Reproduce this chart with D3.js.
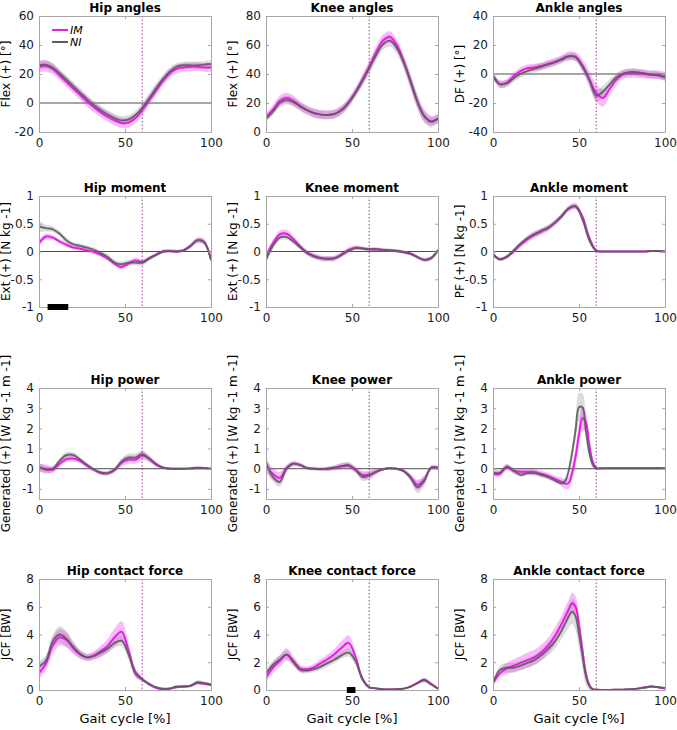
<!DOCTYPE html>
<html>
<head>
<meta charset="utf-8">
<script src="https://cdn.jsdelivr.net/npm/d3@7"></script>
<style>
  body { margin: 0; background: #fff; }
  text { font-family: "DejaVu Sans", Verdana, sans-serif; }
</style>
</head>
<body>
<script>
// gait cycle samples (%)
var gait = [0,4,8,12,16,20,24,28,32,36,40,44,48,52,56,60,64,68,72,76,80,84,88,92,96,100];
var gaitFine = [0,4,8,12,16,20,24,28,32,36,40,42,44,46,48,50,52,54,56,58,60,64,68,72,76,80,84,88,92,96,100];

// joint angles [deg]
var hipAngNI = [26,26.5,24.5,20.5,16,11.5,7,2.5,-1.5,-5,-8,-10.5,-12,-11.5,-8.5,-3.5,3,10,16.5,21.5,25,26,26,26,26.5,27];
var hipAngIM = [25,25.5,23.5,19,14.5,10,5.5,1,-3,-6.5,-9.5,-12,-13.8,-13.5,-10.5,-5,2,8.5,15,20.5,23.5,24.5,25,25,24.5,24.5];
var hipAngNiSd = [3,3,3,3,3,3,3,3,3,3,3,3,3,3,3,3.5,3.5,3.5,3,3,2.5,2.5,2.5,2.5,2.5,2.5];
var hipAngImSd = [4,4,3.5,3.5,3.5,3.5,3.5,3.5,3.5,3.5,3.5,3.5,3.5,3.5,3.5,3.5,3.5,3.5,3,3,3,3,3,3,3,3];

var kneeAngNI = [9,14,20,22,20.5,17.5,15,13,12,11.8,12.5,15,20,27,35,44,53,60.5,63,58,48,35,21,11,7,9.5];
var kneeAngIM = [10.5,15.5,21.5,23.5,21.5,18,15,13,12,11.8,12.5,15.5,20.5,27.5,36,45,55,63,65.5,60,49,35,21,11,7.5,9];
var kneeAngNiSd = [2,2.5,3,3,3,3,3,3,3,3,3,3,3,3,3.5,4,4,4,4,4,4.5,5,5,4.5,4,3];
var kneeAngImSd = [2.5,3,3.5,3.5,3.5,3,3,3,3,3,3,3,3,3,3.5,4,4,4,4,4,4,4.5,4.5,4,3,3];

var ankAngNI = [-1,-7,-6.5,-3,0,2,3.5,5,6.5,8,10,12,11.5,5,-4,-15,-12,-7,-2,0.5,1.5,1.2,0.5,-0.5,-1,-2.5];
var ankAngIM = [-1.5,-7,-6,-1.5,2,4,4.5,5.5,7,8.5,10.5,12.5,12,6,-3.5,-13,-16.5,-10,-3.5,0,0.5,0.5,0,-0.5,-0.5,-1.5];
var ankAngNiSd = [2,2.5,2.5,2.5,2.5,2.5,2.5,2.5,2.5,2.5,2.5,2.5,2.5,3,3.5,4,4,3.5,3,2.5,2.5,2.5,2.5,2.5,2.5,2.5];
var ankAngImSd = [2,2.5,2.5,2.5,2.5,2.5,2.5,2.5,2.5,2.5,2.5,3,3,4,5.5,6,6,4.5,3.5,3,3,3,3,3,3,3];

// joint moments [N kg-1]
var hipMomNI = [0.45,0.42,0.4,0.32,0.2,0.13,0.1,0.07,0.03,-0.03,-0.1,-0.2,-0.23,-0.2,-0.2,-0.2,-0.13,-0.06,0,0.01,0,0.02,0.1,0.2,0.17,-0.15];
var hipMomIM = [0.15,0.27,0.25,0.18,0.12,0.07,0.05,0.02,-0.01,-0.06,-0.13,-0.22,-0.28,-0.22,-0.16,-0.19,-0.12,-0.06,0,0.01,0,0.02,0.1,0.2,0.17,-0.15];
var hipMomNiSd = [0.1,0.06,0.05,0.05,0.05,0.04,0.04,0.04,0.04,0.04,0.05,0.05,0.05,0.05,0.05,0.05,0.04,0.03,0.03,0.03,0.03,0.03,0.04,0.05,0.05,0.05];
var hipMomImSd = [0.06,0.05,0.04,0.04,0.04,0.04,0.04,0.04,0.04,0.04,0.04,0.04,0.04,0.04,0.05,0.04,0.03,0.03,0.03,0.03,0.03,0.03,0.04,0.05,0.05,0.05];

var kneeMomNI = [-0.15,0.1,0.25,0.26,0.18,0.07,-0.03,-0.09,-0.12,-0.13,-0.12,-0.06,0.01,0.06,0.05,0.04,0.04,0.03,0.02,0.01,-0.01,-0.04,-0.1,-0.15,-0.12,0.02];
var kneeMomIM = [-0.08,0.15,0.31,0.32,0.22,0.09,-0.02,-0.08,-0.12,-0.13,-0.12,-0.05,0.03,0.07,0.06,0.04,0.04,0.03,0.02,0.01,-0.01,-0.04,-0.1,-0.15,-0.12,0.02];
var kneeMomNiSd = [0.06,0.05,0.05,0.05,0.05,0.04,0.04,0.04,0.04,0.04,0.04,0.04,0.04,0.03,0.03,0.03,0.03,0.03,0.03,0.03,0.03,0.03,0.03,0.04,0.04,0.04];
var kneeMomImSd = [0.06,0.06,0.07,0.07,0.06,0.05,0.05,0.05,0.05,0.05,0.05,0.04,0.04,0.04,0.03,0.03,0.03,0.03,0.03,0.03,0.03,0.03,0.03,0.03,0.03,0.03];

var ankMomNI = [-0.05,-0.14,-0.09,0.02,0.14,0.24,0.31,0.37,0.43,0.52,0.64,0.78,0.81,0.58,0.2,0.01,0,0,0,0,0,0,0,0.01,0.01,0];
var ankMomIM = [-0.05,-0.14,-0.1,0,0.12,0.22,0.3,0.36,0.42,0.52,0.64,0.77,0.82,0.63,0.25,0.02,0,0,0,0,0,0,0,0.01,0.01,0];
var ankMomNiSd = [0.03,0.03,0.03,0.04,0.04,0.05,0.05,0.05,0.05,0.05,0.05,0.05,0.05,0.05,0.05,0.02,0.01,0.01,0.01,0.01,0.01,0.01,0.01,0.01,0.01,0.01];
var ankMomImSd = [0.03,0.03,0.03,0.04,0.05,0.06,0.06,0.06,0.05,0.05,0.05,0.05,0.05,0.05,0.05,0.02,0.01,0.01,0.01,0.01,0.01,0.01,0.01,0.01,0.01,0.01];

// joint powers [W kg-1 m-1]
var hipPowNI = [0.1,-0.05,0,0.4,0.68,0.68,0.45,0.18,-0.05,-0.2,-0.22,-0.05,0.35,0.55,0.55,0.72,0.5,0.2,0.05,0,0,0,0.01,0.02,0.02,0];
var hipPowIM = [0.05,0,-0.05,0.25,0.48,0.5,0.38,0.15,-0.05,-0.2,-0.22,-0.05,0.3,0.45,0.45,0.65,0.5,0.25,0.07,0.01,0,0,0.02,0.05,0.04,0];
var hipPowNiSd = [0.2,0.2,0.15,0.15,0.15,0.15,0.12,0.12,0.1,0.1,0.1,0.12,0.15,0.2,0.2,0.2,0.15,0.1,0.05,0.03,0.03,0.03,0.03,0.03,0.03,0.03];
var hipPowImSd = [0.2,0.2,0.15,0.15,0.15,0.15,0.12,0.12,0.1,0.1,0.1,0.12,0.2,0.2,0.2,0.2,0.15,0.1,0.05,0.03,0.03,0.03,0.05,0.06,0.05,0.03];

var kneePowNI = [0.3,-0.4,-0.65,0,0.25,0.18,0.03,0,-0.02,0,0.05,0.13,0.18,-0.05,-0.4,-0.33,-0.15,-0.03,0.02,0,-0.12,-0.45,-0.92,-0.6,0.05,0.05];
var kneePowIM = [0.15,-0.25,-0.45,0.05,0.25,0.18,0.03,0,-0.02,0,0.05,0.12,0.15,-0.05,-0.3,-0.3,-0.15,-0.03,0.02,0,-0.1,-0.4,-0.8,-0.55,0.05,0.05];
var kneePowNiSd = [0.4,0.25,0.25,0.15,0.12,0.1,0.08,0.08,0.08,0.1,0.12,0.15,0.15,0.15,0.2,0.2,0.12,0.06,0.05,0.05,0.08,0.15,0.3,0.25,0.1,0.08];
var kneePowImSd = [0.3,0.3,0.3,0.15,0.12,0.1,0.08,0.08,0.08,0.1,0.12,0.15,0.15,0.15,0.2,0.2,0.12,0.06,0.05,0.05,0.08,0.15,0.25,0.2,0.1,0.08];

var ankPowNI = [-0.2,-0.2,0.1,-0.1,-0.3,-0.22,-0.22,-0.3,-0.42,-0.58,-0.72,-0.6,-0.1,0.8,1.9,3.05,3.05,1.9,0.8,0.2,0.02,0.02,0.02,0.02,0.02,0.02,0.02,0.02,0.02,0.02,0.02];
var ankPowIM = [-0.25,-0.25,0.08,-0.1,-0.15,-0.15,-0.15,-0.25,-0.35,-0.5,-0.65,-0.75,-0.7,-0.2,0.6,1.7,2.5,2.3,1.2,0.35,0.05,0.02,0.02,0.02,0.02,0.02,0.02,0.02,0.02,0.02,0.02];
var ankPowNiSd = [0.15,0.15,0.12,0.12,0.12,0.12,0.12,0.12,0.12,0.12,0.12,0.15,0.2,0.3,0.5,0.7,0.7,0.5,0.3,0.15,0.05,0.03,0.03,0.03,0.03,0.03,0.03,0.03,0.03,0.03,0.03];
var ankPowImSd = [0.15,0.15,0.15,0.15,0.15,0.15,0.15,0.15,0.15,0.15,0.2,0.25,0.3,0.4,0.5,0.6,0.6,0.5,0.35,0.15,0.05,0.03,0.03,0.03,0.03,0.03,0.03,0.03,0.03,0.03,0.03];

// joint contact forces [BW]
var hipJcfNI = [1.7,2.1,3.5,4,3.7,3.1,2.6,2.35,2.45,2.7,3,3.4,3.55,2.6,1.2,0.75,0.45,0.2,0.1,0.1,0.25,0.25,0.3,0.55,0.5,0.4];
var hipJcfIM = [1.2,1.9,3.2,3.8,3.6,3,2.55,2.35,2.5,2.8,3.2,3.8,4.2,2.9,1.3,0.8,0.4,0.15,0.05,0.1,0.2,0.25,0.3,0.5,0.45,0.35];
var hipJcfNiSd = [0.4,0.4,0.5,0.6,0.55,0.4,0.3,0.25,0.25,0.3,0.3,0.35,0.4,0.4,0.3,0.15,0.1,0.08,0.08,0.08,0.08,0.1,0.1,0.15,0.1,0.1];
var hipJcfImSd = [0.4,0.5,0.6,0.6,0.55,0.4,0.3,0.25,0.3,0.4,0.5,0.65,0.75,0.5,0.3,0.15,0.1,0.08,0.08,0.08,0.08,0.1,0.1,0.12,0.1,0.1];

var kneeJcfNI = [1.2,1.8,2.2,2.55,2,1.45,1.4,1.5,1.7,1.95,2.2,2.5,2.7,2.1,0.8,0.2,0.12,0.06,0.04,0.05,0.1,0.25,0.5,0.7,0.4,0.1];
var kneeJcfIM = [0.9,1.6,2.1,2.55,2.1,1.55,1.5,1.65,1.95,2.25,2.6,3.05,3.4,2.4,0.85,0.2,0.12,0.06,0.04,0.05,0.1,0.25,0.5,0.75,0.45,0.1];
var kneeJcfNiSd = [0.3,0.3,0.3,0.3,0.25,0.2,0.2,0.2,0.25,0.25,0.25,0.25,0.3,0.3,0.2,0.08,0.05,0.05,0.05,0.05,0.05,0.08,0.1,0.15,0.1,0.05];
var kneeJcfImSd = [0.4,0.4,0.4,0.45,0.35,0.25,0.2,0.25,0.3,0.35,0.4,0.5,0.55,0.4,0.2,0.08,0.05,0.05,0.05,0.05,0.05,0.08,0.1,0.15,0.1,0.05];

var ankJcfNI = [0.5,1.45,1.6,1.6,1.75,1.95,2.15,2.5,2.95,3.5,4.3,4.8,5.3,5.65,5.3,4.0,2.5,1.0,0.3,0.05,0.02,0.01,0.01,0.02,0.03,0.05,0.1,0.15,0.25,0.2,0.15];
var ankJcfIM = [0.5,1.2,1.55,1.75,1.95,2.15,2.35,2.7,3.2,3.9,4.8,5.3,5.8,6.25,6.0,4.7,2.9,1.2,0.35,0.06,0.02,0.01,0.01,0.02,0.03,0.05,0.1,0.2,0.25,0.2,0.1];
var ankJcfNiSd = [0.2,0.3,0.35,0.35,0.35,0.35,0.35,0.4,0.45,0.5,0.6,0.7,0.8,0.9,1.0,1.0,0.9,0.6,0.3,0.1,0.05,0.03,0.03,0.03,0.03,0.03,0.05,0.05,0.05,0.05,0.05];
var ankJcfImSd = [0.2,0.3,0.4,0.45,0.5,0.55,0.55,0.55,0.55,0.6,0.6,0.65,0.7,0.75,0.75,0.7,0.6,0.4,0.2,0.06,0.03,0.03,0.03,0.03,0.03,0.03,0.05,0.05,0.05,0.05,0.05];

// significance bars (start, end % of gait)
var hipMomSig = [5, 17];
var kneeJcfSig = [47, 52];

var toeOff = 60;
var xTicks = [0, 50, 100];
var angleTicks1 = [-20, 0, 20, 40, 60];
var angleTicks2 = [0, 20, 40, 60, 80];
var angleTicks3 = [-40, -20, 0, 20, 40];
var momentTicks = [-1, -0.5, 0, 0.5, 1];
var powerTicks = [-1, 0, 1, 2, 3, 4];
var jcfTicks = [0, 2, 4, 6, 8];

var panels = [
  {title: 'Hip angles', ylab: 'Flex (+) [°]', dom: [-20, 60], ticks: angleTicks1, x: gait, ni: hipAngNI, niSd: hipAngNiSd, im: hipAngIM, imSd: hipAngImSd, legend: true},
  {title: 'Knee angles', ylab: 'Flex (+) [°]', dom: [0, 80], ticks: angleTicks2, x: gait, ni: kneeAngNI, niSd: kneeAngNiSd, im: kneeAngIM, imSd: kneeAngImSd},
  {title: 'Ankle angles', ylab: 'DF (+) [°]', dom: [-40, 40], ticks: angleTicks3, x: gait, ni: ankAngNI, niSd: ankAngNiSd, im: ankAngIM, imSd: ankAngImSd},
  {title: 'Hip moment', ylab: 'Ext (+) [N kg -1]', dom: [-1, 1], ticks: momentTicks, x: gait, ni: hipMomNI, niSd: hipMomNiSd, im: hipMomIM, imSd: hipMomImSd, sig: hipMomSig},
  {title: 'Knee moment', ylab: 'Ext (+) [N kg -1]', dom: [-1, 1], ticks: momentTicks, x: gait, ni: kneeMomNI, niSd: kneeMomNiSd, im: kneeMomIM, imSd: kneeMomImSd},
  {title: 'Ankle moment', ylab: 'PF (+) [N kg -1]', dom: [-1, 1], ticks: momentTicks, x: gait, ni: ankMomNI, niSd: ankMomNiSd, im: ankMomIM, imSd: ankMomImSd},
  {title: 'Hip power', ylab: 'Generated (+) [W kg -1 m -1]', dom: [-1.5, 4], ticks: powerTicks, x: gait, ni: hipPowNI, niSd: hipPowNiSd, im: hipPowIM, imSd: hipPowImSd},
  {title: 'Knee power', ylab: 'Generated (+) [W kg -1 m -1]', dom: [-1.5, 4], ticks: powerTicks, x: gait, ni: kneePowNI, niSd: kneePowNiSd, im: kneePowIM, imSd: kneePowImSd},
  {title: 'Ankle power', ylab: 'Generated (+) [W kg -1 m -1]', dom: [-1.5, 4], ticks: powerTicks, x: gaitFine, ni: ankPowNI, niSd: ankPowNiSd, im: ankPowIM, imSd: ankPowImSd},
  {title: 'Hip contact force', ylab: 'JCF [BW]', dom: [0, 8], ticks: jcfTicks, x: gait, ni: hipJcfNI, niSd: hipJcfNiSd, im: hipJcfIM, imSd: hipJcfImSd, xlab: true},
  {title: 'Knee contact force', ylab: 'JCF [BW]', dom: [0, 8], ticks: jcfTicks, x: gait, ni: kneeJcfNI, niSd: kneeJcfNiSd, im: kneeJcfIM, imSd: kneeJcfImSd, xlab: true, sig: kneeJcfSig},
  {title: 'Ankle contact force', ylab: 'JCF [BW]', dom: [0, 8], ticks: jcfTicks, x: gaitFine, ni: ankJcfNI, niSd: ankJcfNiSd, im: ankJcfIM, imSd: ankJcfImSd, xlab: true}
];

var colX = [39, 266, 493];
var rowY = [16, 196, 388, 579];
var rowH = [116, 111, 111, 111];
var pw = 172;

var imColor = '#e31ee3', niColor = '#5c5c5c', boxColor = '#a6a6a6';

var svg = d3.select('body').append('svg')
    .attr('width', 677)
    .attr('height', 730);

panels.forEach(function(p, k){
    var col = k % 3, row = Math.floor(k / 3);
    var ph = rowH[row];
    var g = svg.append('g').attr('transform', 'translate(' + colX[col] + ',' + rowY[row] + ')');

    var x = d3.scaleLinear().domain([0, 100]).range([0, pw]);
    var y = d3.scaleLinear().domain(p.dom).range([ph, 0]);

    var pts = function(mean, sd){
        return p.x.map(function(v, i){ return {x: v, m: mean[i], s: sd[i]}; });
    };
    var curve = d3.curveCatmullRom.alpha(0.5);
    var band = d3.area().curve(curve)
        .x(function(d){ return x(d.x); })
        .y0(function(d){ return y(d.m - d.s); })
        .y1(function(d){ return y(d.m + d.s); });
    var line = d3.line().curve(curve)
        .x(function(d){ return x(d.x); })
        .y(function(d){ return y(d.m); });

    var clipId = 'clip' + k;
    g.append('clipPath').attr('id', clipId)
        .append('rect').attr('width', pw).attr('height', ph);
    var plot = g.append('g').attr('clip-path', 'url(#' + clipId + ')');

    if (p.dom[0] < 0) {
        plot.append('line')
            .attr('x1', 0).attr('x2', pw)
            .attr('y1', y(0)).attr('y2', y(0))
            .attr('stroke', '#4d4d4d').attr('stroke-width', 1);
    }

    plot.append('path').datum(pts(p.ni, p.niSd))
        .attr('d', band).attr('fill', '#8a8a8a').attr('fill-opacity', 0.3);
    plot.append('path').datum(pts(p.im, p.imSd))
        .attr('d', band).attr('fill', imColor).attr('fill-opacity', 0.3);
    plot.append('path').datum(pts(p.im, p.imSd))
        .attr('d', line).attr('fill', 'none').attr('stroke', imColor).attr('stroke-width', 1.9);
    plot.append('path').datum(pts(p.ni, p.niSd))
        .attr('d', line).attr('fill', 'none').attr('stroke', niColor).attr('stroke-width', 1.9)
        .attr('stroke-opacity', 0.9);

    plot.append('line')
        .attr('x1', x(toeOff)).attr('x2', x(toeOff))
        .attr('y1', 0).attr('y2', ph)
        .attr('stroke', '#9b3a9b').attr('stroke-width', 1)
        .attr('stroke-dasharray', '1.5,2');

    // axes box with inward ticks
    var axB = d3.axisBottom(x).tickValues(xTicks).tickSizeInner(-3).tickSizeOuter(0).tickPadding(6);
    var axT = d3.axisTop(x).tickValues(xTicks).tickSizeInner(-3).tickSizeOuter(0).tickFormat('');
    var axL = d3.axisLeft(y).tickValues(p.ticks).tickSizeInner(-3).tickSizeOuter(0).tickPadding(5)
        .tickFormat(function(d){ return String(d); });
    var axR = d3.axisRight(y).tickValues(p.ticks).tickSizeInner(-3).tickSizeOuter(0).tickFormat('');

    [[axB, 'translate(0,' + ph + ')'], [axT, null], [axL, null], [axR, 'translate(' + pw + ',0)']].forEach(function(a){
        var ag = g.append('g').call(a[0]);
        if (a[1]) ag.attr('transform', a[1]);
        ag.select('.domain').attr('stroke', boxColor);
        ag.selectAll('.tick line').attr('stroke', boxColor);
        ag.selectAll('text').attr('fill', '#1a1a1a').style('font-size', '12px')
            .style('font-family', '"DejaVu Sans", Verdana, sans-serif');
    });

    if (p.sig) {
        g.append('rect')
            .attr('x', x(p.sig[0])).attr('width', x(p.sig[1]) - x(p.sig[0]))
            .attr('y', ph - 3).attr('height', 6)
            .attr('fill', '#000');
    }

    g.append('text')
        .attr('x', pw / 2).attr('y', -4)
        .attr('text-anchor', 'middle')
        .style('font-size', '12px').style('font-weight', 'bold')
        .text(p.title);

    g.append('text')
        .attr('transform', 'translate(' + (-29) + ',' + (ph / 2) + ') rotate(-90)')
        .attr('text-anchor', 'middle')
        .style('font-size', '12px')
        .text(p.ylab);

    if (p.xlab) {
        g.append('text')
            .attr('x', pw / 2).attr('y', ph + 33)
            .attr('text-anchor', 'middle')
            .style('font-size', '13px')
            .text('Gait cycle [%]');
    }

    if (p.legend) {
        var lg = [['IM', imColor], ['NI', niColor]];
        lg.forEach(function(l, i){
            g.append('line')
                .attr('x1', 13).attr('x2', 29)
                .attr('y1', 14 + i * 12).attr('y2', 14 + i * 12)
                .attr('stroke', l[1]).attr('stroke-width', 2);
            g.append('text')
                .attr('x', 31).attr('y', 18 + i * 12)
                .style('font-size', '11px').style('font-style', 'italic')
                .text(l[0]);
        });
    }
});
</script>
</body>
</html>
